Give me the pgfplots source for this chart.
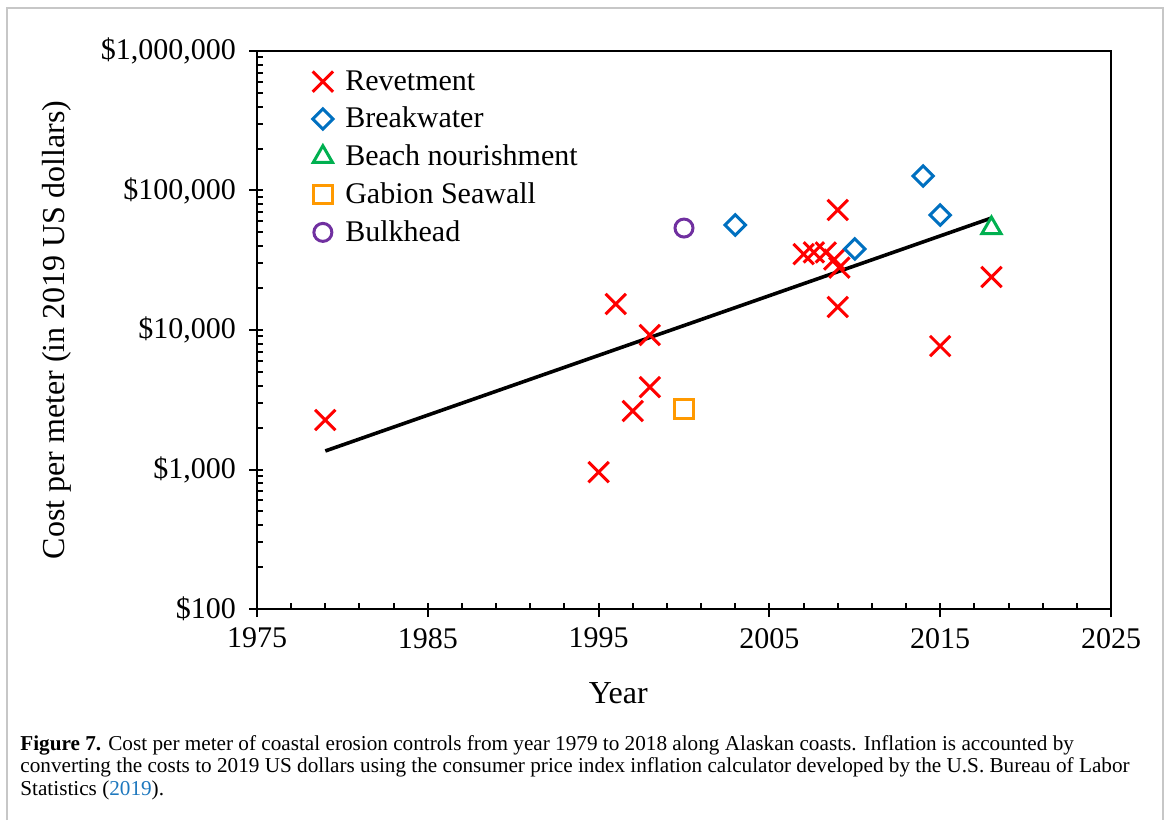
\documentclass[border=0pt]{standalone}
\usepackage{fontspec}
\setmainfont{Liberation Serif}
\usepackage{pgfplots}
\pgfplotsset{compat=1.18}
\definecolor{cRed}{RGB}{255,0,0}
\definecolor{cBlue}{RGB}{0,112,192}
\definecolor{cGreen}{RGB}{0,176,80}
\definecolor{cOrange}{RGB}{255,153,0}
\definecolor{cPurple}{RGB}{112,48,160}
\definecolor{cLink}{RGB}{30,120,190}
\begin{document}
\begin{tikzpicture}
\useasboundingbox (0pt,0pt) rectangle (585.5pt,410pt);
\draw[black!22, line width=1pt] (3.5pt,0pt) -- (3.5pt,406pt) -- (581.5pt,406pt) -- (581.5pt,0pt);
\begin{axis}[
  at={(128.5pt,105.5pt)}, anchor=south west,
  scale only axis, width=427pt, height=279pt,
  xmin=1975, xmax=2025, ymode=log, ymin=100, ymax=1000000,
  axis line style={line width=1.2pt},
  xtick={1975,1985,1995,2005,2015,2025},
  xticklabels={1975,1985,1995,2005,2015,2025},
  minor x tick num=4,
  ytick={100,1000,10000,100000,1000000},
  yticklabels={{\$100},{\$1,000},{\$10,000},{\$100,000},{\$1,000,000}},
  tick align=inside,
  major tick length=7pt, minor tick length=3pt,
  tick style={line width=1pt, black},
  every major x tick/.append style={yshift=-4pt},
  every major y tick/.append style={xshift=-4pt},
  ytick pos=left, xtick pos=bottom,
  ticklabel style={font=\fontsize{15}{18}\selectfont},
  yticklabel style={xshift=-7pt},
  xticklabel style={yshift=-6pt},
  xlabel={Year},
  ylabel={Cost per meter (in 2019 US dollars)},
  label style={font=\fontsize{16}{19}\selectfont},
  xlabel style={at={(axis description cs:0.423,0)}, anchor=center, yshift=-42pt},
  ylabel style={at={(axis description cs:-0.234,0.5)}, anchor=center},
  legend style={at={(axis description cs:0,1)}, anchor=north west, draw=none, fill=none,
    xshift=21pt, yshift=-5.5pt, font=\fontsize{15}{18}\selectfont, row sep=3pt,
    legend cell align=left},
  legend image code/.code={\draw[#1] plot coordinates {(0.3cm,0cm)}; \path (0cm,0cm) (0.3cm+9pt,0cm);},
  clip=false,
]
\addplot[black, line width=1.8pt, forget plot] coordinates {(1979,1358) (2018,63500)};
\addplot[only marks, mark=x, mark size=7.2pt, mark options={line width=1.5pt}, color=cRed] coordinates {
(1979,2264) (1995,959) (1996,15350) (1997,2624) (1998,9206) (1998,3899)
(2007,35000) (2007.6,36000) (2008.3,36000) (2008.8,32000) (2009.1,28000)
(2009,72500) (2009,14630) (2015,7670) (2018,23990)};
\addlegendentry{Revetment}
\addplot[only marks, mark=square, mark size=3.6pt, mark options={rotate=45, line width=1.5pt}, color=cBlue] coordinates {
(2003,56600) (2010,38100) (2014,127000) (2015,66700)};
\addlegendentry{Breakwater}
\addplot[only marks, mark=triangle, mark size=5.5pt, mark options={line width=1.5pt}, color=cGreen] coordinates {
(2018,53800)};
\addlegendentry{Beach nourishment}
\addplot[only marks, mark=square, mark size=4.7pt, mark options={line width=1.5pt}, color=cOrange] coordinates {
(2000,2716)};
\addlegendentry{Gabion Seawall}
\addplot[only marks, mark=o, mark size=4.5pt, mark options={line width=1.5pt}, color=cPurple] coordinates {
(2000,53800)};
\addlegendentry{Bulkhead}
\end{axis}
\node[anchor=base west, inner sep=0pt, font=\fontsize{10.6}{11.25}\selectfont] at (10pt,35pt) {\textbf{Figure 7.} Cost per meter of coastal erosion controls from year 1979 to 2018 along Alaskan coasts. Inflation is accounted by};
\node[anchor=base west, inner sep=0pt, font=\fontsize{10.6}{11.25}\selectfont] at (10pt,23.75pt) {converting the costs to 2019 US dollars using the consumer price index inflation calculator developed by the U.S. Bureau of Labor};
\node[anchor=base west, inner sep=0pt, font=\fontsize{10.6}{11.25}\selectfont] at (10pt,12.5pt) {Statistics (\textcolor{cLink}{2019}).};
\end{tikzpicture}
\end{document}
